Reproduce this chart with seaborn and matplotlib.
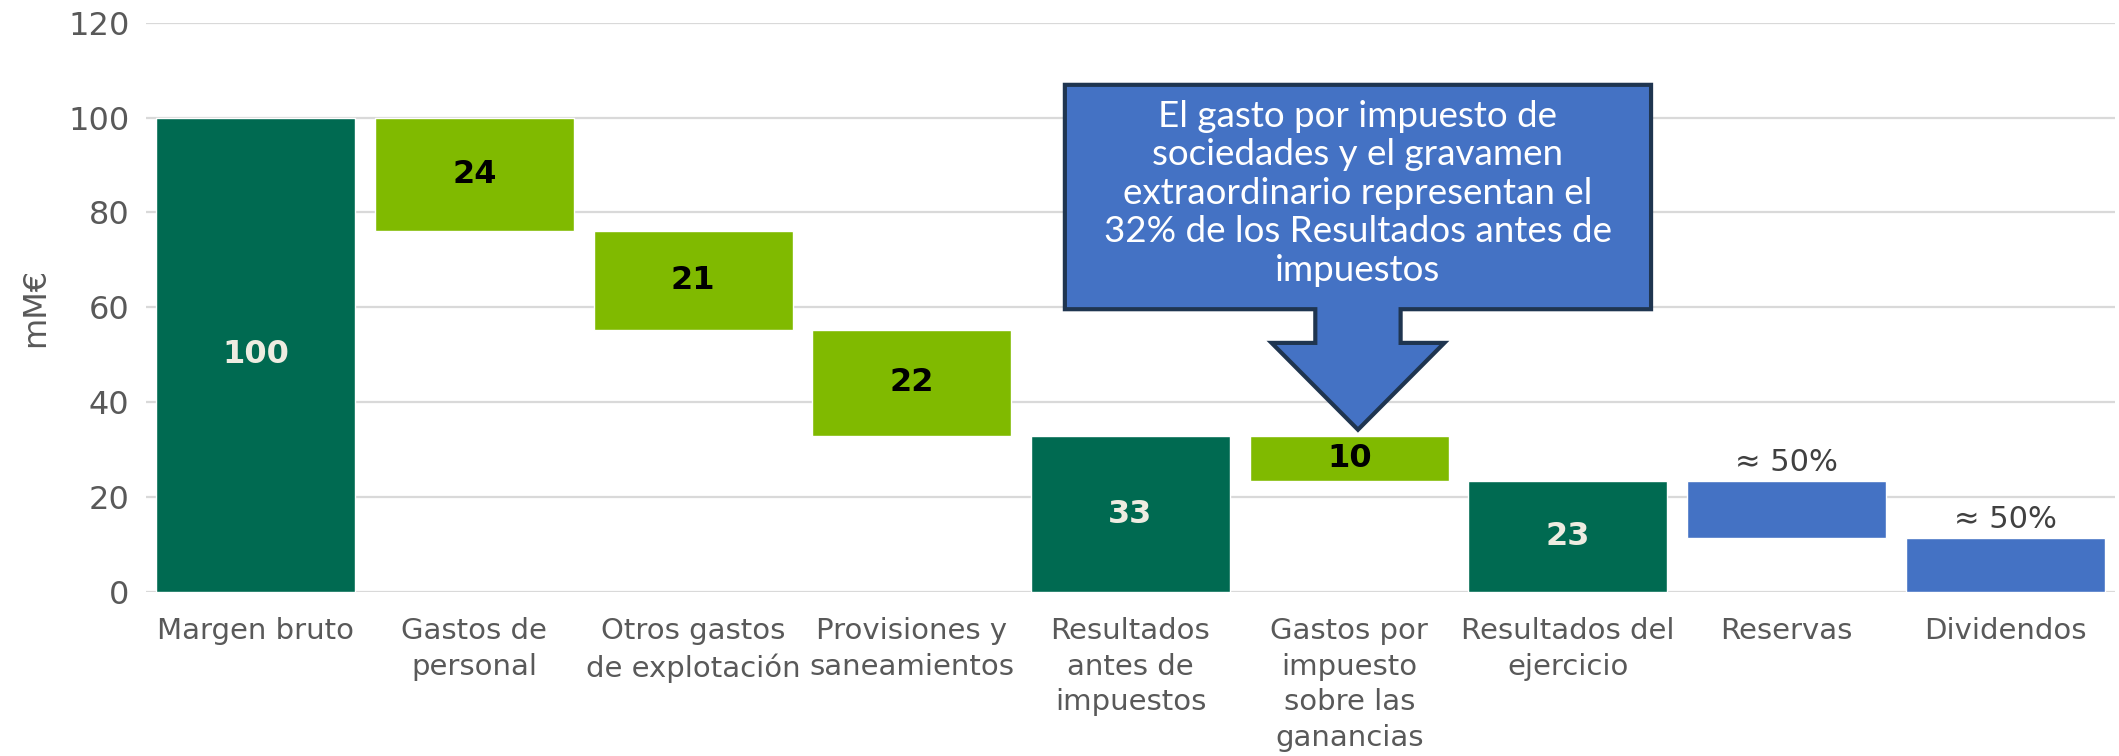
import numpy as np
import pandas as pd
import matplotlib
matplotlib.use("Agg")
import matplotlib.pyplot as plt
from matplotlib.patches import Polygon
import seaborn as sns

# datos (mM€)
conceptos = ["Margen bruto", "Gastos de\npersonal", "Otros gastos\nde explotación",
             "Provisiones y\nsaneamientos", "Resultados\nantes de\nimpuestos",
             "Gastos por\nimpuesto\nsobre las\nganancias", "Resultados del\nejercicio",
             "Reservas", "Dividendos"]
techo = [100, 100, 76.1, 55.3, 32.8, 32.8, 23.4, 23.4, 11.4]
base = [0, 76.1, 55.3, 32.8, 0, 23.4, 0, 11.4, 0]
tipo = ["total", "gasto", "gasto", "gasto", "total", "gasto", "total", "reparto", "reparto"]
etiquetas = ["100", "24", "21", "22", "33", "10", "23", "≈ 50%", "≈ 50%"]
y_ticks = [0, 20, 40, 60, 80, 100, 120]

nota = ("El gasto por impuesto de\nsociedades y el gravamen\nextraordinario representan el\n"
        "32% de los Resultados antes de\nimpuestos")

colores = {"total": "#006A51", "gasto": "#80BA00", "reparto": "#4472C4"}

df = pd.DataFrame({"concepto": conceptos, "techo": techo, "base": base, "tipo": tipo,
                   "etiqueta": etiquetas})
df["altura"] = df["techo"] - df["base"]

sns.set_theme(style="white")
plt.rcParams["font.family"] = ["DejaVu Sans"]

fig, ax = plt.subplots(figsize=(21.19, 7.56), dpi=100)
fig.subplots_adjust(left=0.069, right=0.998, bottom=0.217, top=0.970)

for t, sub in df.groupby("tipo"):
    sns.barplot(data=sub, x="concepto", y="altura", order=conceptos, color=colores[t],
                saturation=1, width=0.91, bottom=sub["base"].to_numpy(),
                errorbar=None, ax=ax, zorder=2)

ax.set_ylim(0, 120)
ax.set_xlim(-0.5, len(conceptos) - 0.5)
ax.set_yticks(y_ticks)
ax.yaxis.grid(True, color="#D9D9D9", linewidth=1.6, zorder=0)
ax.set_axisbelow(True)
sns.despine(ax=ax, left=True, bottom=True)
ax.tick_params(axis="y", length=0, labelsize=23, colors="#595959", pad=12)
ax.tick_params(axis="x", length=0, labelsize=21, colors="#595959", pad=18)
for lab in ax.get_xticklabels():
    lab.set_linespacing(1.35)
ax.set_xlabel("")
ax.set_ylabel("mM€", fontsize=23, color="#595959", labelpad=12)

# etiquetas de las barras
for i, row in df.iterrows():
    if row["tipo"] == "reparto":
        ax.annotate(row["etiqueta"], (i, row["techo"]), xytext=(0, 3),
                    textcoords="offset points", ha="center", va="bottom",
                    fontsize=22, color="#404040")
    else:
        col = "#EEECE1" if row["tipo"] == "total" else "black"
        ax.text(i, (row["techo"] + row["base"]) / 2, row["etiqueta"], ha="center",
                va="center", fontsize=23, fontweight="bold", color=col, zorder=3)

# llamada con flecha sobre "Gastos por impuesto"
k = 5
cx = k + 0.04
punta = techo[k] + 1.4
caja = (cx - 1.34, cx + 1.34, 59.6, 106.9)
forma = [(caja[0], caja[3]), (caja[1], caja[3]), (caja[1], caja[2]),
         (cx + 0.195, caja[2]), (cx + 0.195, 52.5), (cx + 0.395, 52.5),
         (cx, punta), (cx - 0.395, 52.5), (cx - 0.195, 52.5),
         (cx - 0.195, caja[2]), (caja[0], caja[2])]
ax.add_patch(Polygon(forma, closed=True, facecolor="#4472C4", edgecolor="#1F3550",
                     linewidth=3, joinstyle="miter", zorder=4, clip_on=False))
ax.text(cx, (caja[2] + caja[3]) / 2 + 0.8, nota, ha="center", va="center",
        fontsize=26.5, color="white", family=["Lato", "DejaVu Sans"],
        linespacing=1.2, zorder=5)

fig.savefig("out.png", dpi=100)
